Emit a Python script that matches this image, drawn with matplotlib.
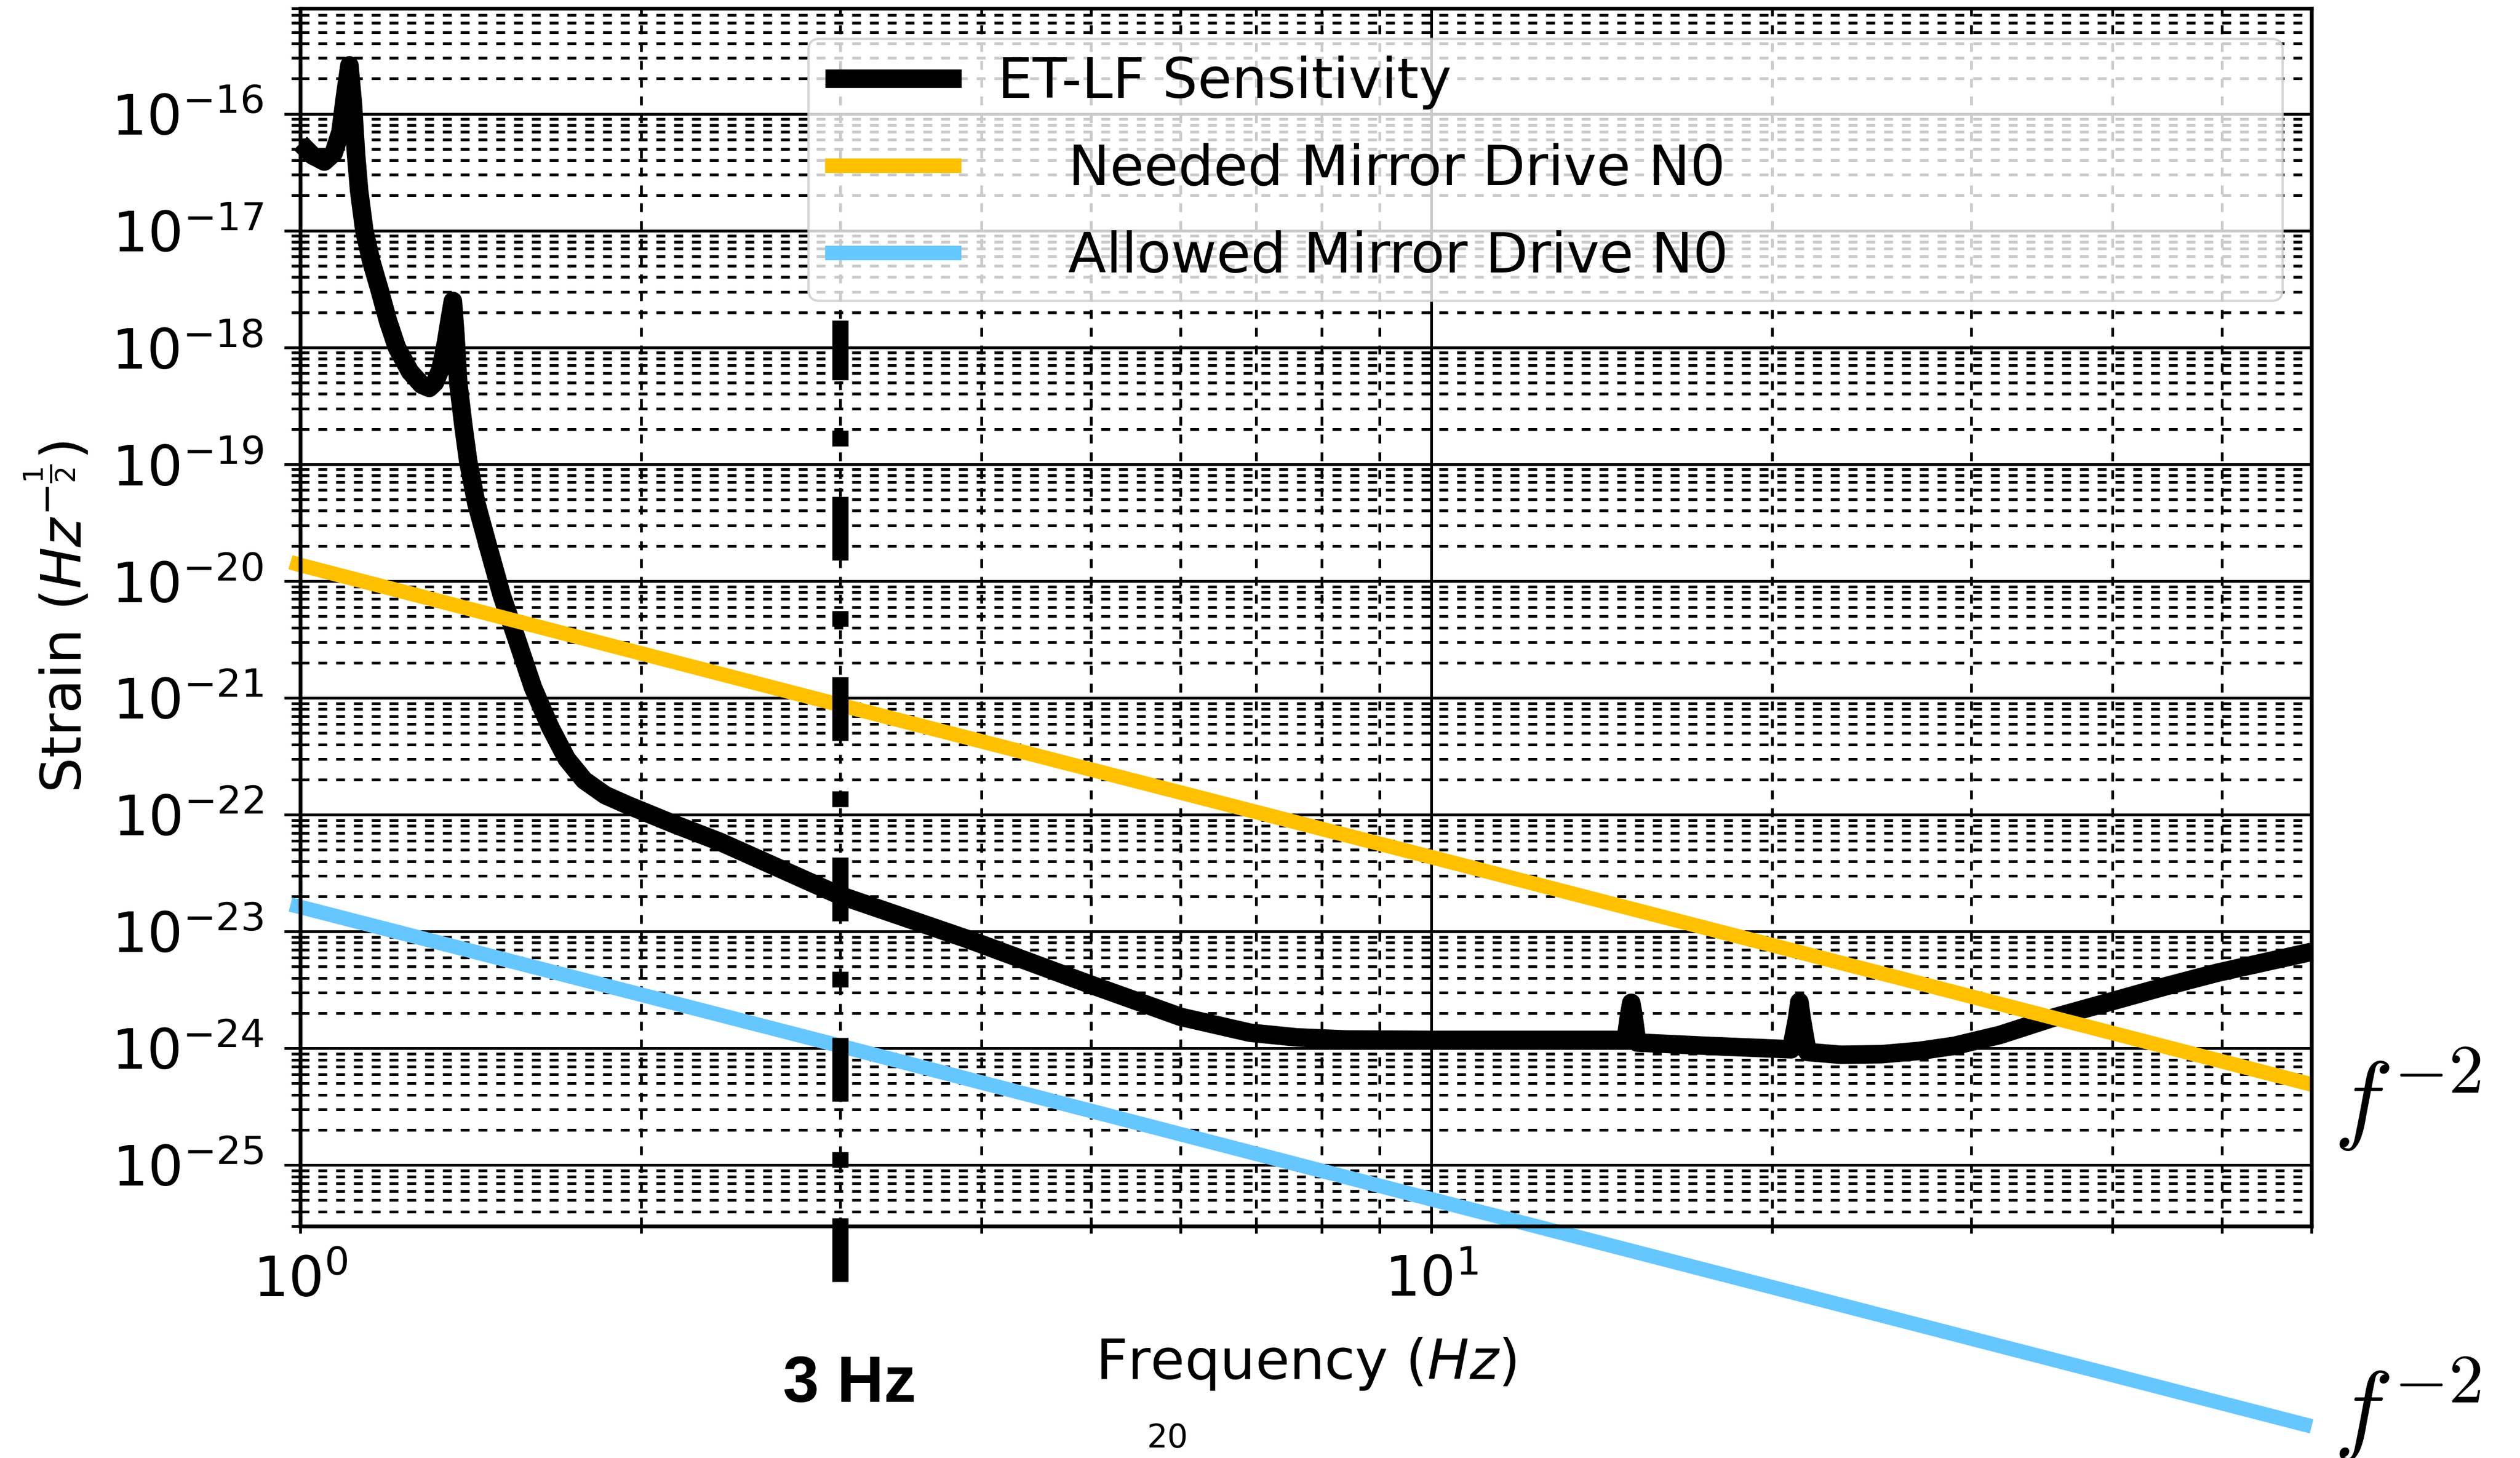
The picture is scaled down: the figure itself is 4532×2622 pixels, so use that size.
import numpy as np
import matplotlib
matplotlib.use('Agg')
from matplotlib import pyplot as plt
from matplotlib import ticker


# ET-LF sensitivity
et_freq = [1.0, 1.025, 1.05, 1.07, 1.085, 1.095, 1.105, 1.113, 1.12, 1.127,
           1.139, 1.155, 1.174, 1.195, 1.217, 1.25, 1.28, 1.30, 1.315, 1.33,
           1.345, 1.356, 1.364, 1.371, 1.379, 1.393, 1.407, 1.431, 1.465, 1.507,
           1.552, 1.606, 1.663, 1.72, 1.782, 1.86, 1.95, 2.14, 2.35, 2.99,
           3.89, 5.0, 6.0, 6.91, 7.6, 8.4, 10.0, 12.0, 14.85, 14.95, 15.02,
           15.09, 15.2, 17.5, 20.8, 21.05, 21.15, 21.25, 21.5, 23.0, 25.0, 27.0,
           29.0, 31.8, 35.6, 39.8, 44.6, 49.6, 60.0]
et_strain = [5.6e-17, 4.4e-17, 3.9e-17, 4.6e-17, 7.0e-17, 1.4e-16, 2.6e-16, 1.2e-16, 4.5e-17, 2.2e-17,
             1.0e-17, 5.5e-18, 3.2e-18, 1.7e-18, 1.0e-18, 6.2e-19, 4.8e-19, 4.5e-19, 5.0e-19, 6.5e-19,
             1.1e-18, 1.8e-18, 2.5e-18, 1.3e-18, 5.0e-19, 2.2e-19, 1.07e-19, 4.6e-20, 2.0e-20, 7.5e-21,
             3.27e-21, 1.22e-21, 5.6e-22, 3.0e-22, 1.97e-22, 1.47e-22, 1.2e-22, 8.3e-23, 5.85e-23, 2.06e-23,
             8.6e-24, 3.5e-24, 1.86e-24, 1.36e-24, 1.24e-24, 1.19e-24, 1.18e-24, 1.18e-24, 1.18e-24, 1.9e-24, 2.45e-24,
             1.9e-24, 1.12e-24, 1.05e-24, 9.8e-25, 1.8e-24, 2.5e-24, 1.8e-24, 9.3e-25, 8.8e-25, 8.9e-25, 9.5e-25,
             1.05e-24, 1.3e-24, 1.85e-24, 2.5e-24, 3.4e-24, 4.45e-24, 6.7e-24]

# mirror drive lines
drive_freq = [0.98, 1.0, 3.0, 10.0, 60.0]
needed_drive = [1.45e-20, 1.37e-20, 8.7e-22, 4.33e-23, 4.9e-25]
allowed_drive = [1.7e-23, 1.62e-23, 1.05e-24, 5.1e-26, 5.8e-28]

# 3 Hz marker
hz3_freq = [3.0, 3.0]
hz3_strain = [1e-26, 1.7e-18]


fig = plt.figure(figsize=(4532 / 300, 2622 / 300), dpi=300)
ax = fig.add_axes([0.1192, 0.1590, 0.7981, 0.8353])
ax.set_xscale('log')
ax.set_yscale('log')

ax.plot(et_freq, et_strain, color='k', lw=8, solid_capstyle='butt',
        label='ET-LF Sensitivity', clip_on=False)
ax.plot(drive_freq, needed_drive, color='#FFC000', lw=6.3, solid_capstyle='butt',
        label='    Needed Mirror Drive N0', clip_on=False)
ax.plot(drive_freq, allowed_drive, color='#66C7FF', lw=6.3, solid_capstyle='butt',
        label='    Allowed Mirror Drive N0', clip_on=False)
ax.plot(hz3_freq, hz3_strain, color='k', lw=7, dashes=(3.93, 3.11, 0.97, 3.11),
        dash_capstyle='butt', clip_on=False)

ax.set_xlim(1, 60)
ax.set_ylim(3e-26, 8e-16)

ax.xaxis.set_major_locator(ticker.LogLocator(base=10, numticks=20))
ax.xaxis.set_minor_locator(ticker.LogLocator(base=10, subs=np.arange(2, 10), numticks=20))
ax.xaxis.set_minor_formatter(ticker.NullFormatter())
ax.yaxis.set_major_locator(ticker.LogLocator(base=10, numticks=30))
ax.yaxis.set_minor_locator(ticker.LogLocator(base=10, subs=np.arange(2, 10), numticks=30))
ax.yaxis.set_minor_formatter(ticker.NullFormatter())

ax.grid(True, which='major', color='k', lw=1.2, ls='-')
ax.grid(True, which='minor', color='k', lw=1.2, ls=(0, (3.2, 3.2)))

ax.tick_params(axis='y', which='major', length=7, width=1.2, pad=9, labelsize=24)
ax.tick_params(axis='y', which='minor', length=3.8, width=1.2)
ax.tick_params(axis='x', which='both', length=3, width=1.2, pad=9, labelsize=24)
for s in ax.spines.values():
    s.set_linewidth(1.6)

ax.set_xlabel('Frequency ($Hz$)', fontsize=24, labelpad=12)
ax.set_ylabel(r'Strain ($Hz^{-\frac{1}{2}}$)', fontsize=24, labelpad=7.5)

ax.legend(loc='upper left', bbox_to_anchor=(0.2527, 0.975, 0.733, 0), mode='expand',
          borderaxespad=0, fontsize=24, handlelength=2.45, handletextpad=0.65,
          labelspacing=0.6, borderpad=0.3)

ax.text(3.06, 9.4e-28, '3 Hz', ha='center', va='baseline', fontsize=28,
        fontweight='bold', family='Liberation Sans')
ax.text(62.8, 1.95e-25, r'$f^{-2}$', fontsize=43, math_fontfamily='cm',
        ha='left', va='baseline')
ax.text(62.8, 4.35e-28, r'$f^{-2}$', fontsize=43, math_fontfamily='cm',
        ha='left', va='baseline')
fig.text(2100 / 4532, 1 - 2603 / 2622, '20', ha='center', va='baseline', fontsize=14)

plt.savefig('out.png', dpi=300)
